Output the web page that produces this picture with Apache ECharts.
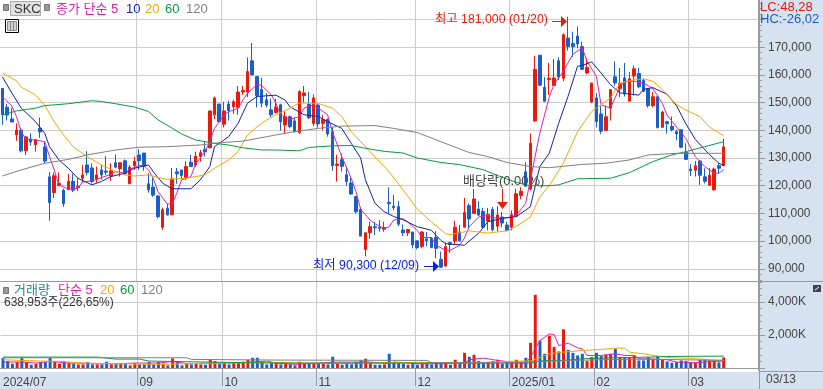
<!DOCTYPE html>
<html><head><meta charset="utf-8">
<style>html,body{margin:0;padding:0;background:#fff}#c{width:823px;height:389px}</style>
<script src="https://cdn.jsdelivr.net/npm/echarts@6/dist/echarts.min.js"></script>
</head><body><div id="c"></div>
<script>
const opens=[155100,148300,144100,138300,140100,132600,136900,134800,140700,134000,123200,117500,120000,118400,118600,121600,119300,122700,127500,126400,122400,125700,125300,123500,128300,126100,129000,120700,127200,131100,131800,120700,119500,116300,105000,111900,109500,125000,125700,123000,128500,127500,130500,133100,133700,145600,149500,142200,149500,148500,148300,153800,153800,165100,159400,154700,151000,147400,146400,149200,141900,144900,143400,139200,152500,149300,142500,149100,142500,143900,139500,127300,129400,124000,121000,116100,111500,97000,103000,105200,105000,104300,114000,112600,112400,104000,103000,103300,100100,98100,100800,101100,101300,93400,91000,99400,100000,103300,105000,112800,110000,111600,110700,107200,111400,105400,108700,105800,105000,109000,116500,125000,118800,143400,167100,155500,158300,156200,165100,158800,173300,171400,174000,170200,160700,150200,151700,145900,139900,148000,159300,155000,158900,150500,159600,160500,158000,155000,148900,152100,141100,143100,141400,139500,140200,132000,126000,125600,128900,123200,120200,118500,127200,127200];
const closes=[145600,145500,143000,140100,132600,137600,135800,136600,139400,128900,113900,123600,120900,113500,121600,118400,119800,123900,124800,121500,123900,123900,124900,125400,126700,128300,124300,126700,128800,129000,127100,118500,116600,108800,111300,109500,122400,124300,123700,126900,126900,130700,131900,132200,147000,151700,143100,147000,147100,150300,153800,154400,161200,160000,152500,149800,149100,145600,148400,143100,144900,141300,139500,154000,153500,144500,151700,142300,143900,138700,127300,127800,127000,121500,117000,110600,101800,103000,105200,104800,104600,104900,113500,112100,106100,103000,104200,98600,97700,103300,100100,97700,97400,90600,98000,98800,105000,100100,110300,108000,115200,109400,105000,109600,104100,109400,106500,103900,109500,117100,118000,119800,135300,162000,156300,150500,158800,158900,159200,174500,170200,170200,171200,162000,162700,157100,143200,139700,144900,154700,157100,156900,153100,158600,162200,155700,154100,148900,152100,141000,146600,142400,140200,138700,133900,129500,125400,127200,123800,121600,123800,126000,126300,134000];
const lows=[142000,143600,143000,136200,132000,131100,134500,132300,137300,128100,107400,115600,120000,112400,118400,117700,118100,121100,123700,120800,121100,122200,123900,121800,126300,123300,123900,120700,125700,125700,125400,117500,116000,108200,104000,109200,109500,120700,122400,122100,126900,126700,128700,130500,133500,144100,142900,141000,143500,145900,145600,152800,152000,160000,148300,148300,148300,144700,146100,139900,138900,140700,139500,138700,150000,144100,141500,141000,140000,137700,125400,121500,125100,120000,116700,110000,101800,94500,100800,102200,103400,103400,110000,111200,105400,101800,101800,97400,97000,97400,98100,97400,93800,90300,90800,95700,98500,99800,105000,104500,109700,109000,104700,103900,103500,103500,105000,103500,103900,109000,115100,119600,118300,143100,156000,150300,152800,156200,158200,157700,168800,166500,169600,161800,160200,149800,141000,138700,139900,143500,156100,152000,152200,150500,152600,155300,153800,148200,148300,140600,140800,138800,139600,136400,133500,129300,123500,123300,120300,120800,120000,118200,124500,127200];
const highs=[155100,149500,148000,142500,141000,138000,138900,136900,144600,135900,124900,124800,124800,118900,124200,124300,122700,127500,132500,128100,126900,127500,130700,128100,131300,128500,129500,127500,130500,133200,131800,124500,122900,116600,112100,113400,126400,126400,125700,128900,131100,132300,132900,135900,147000,152200,149500,150300,150700,151000,156000,156000,166300,171500,159400,159000,153500,151500,151400,149600,146800,145300,144600,154500,156000,153800,153000,149600,145600,144300,141100,131200,131500,127000,122800,116100,112200,103000,107000,107000,107600,107000,119400,116700,114400,106000,104200,103300,100100,103600,103300,101500,103600,96200,99500,99800,107300,105800,115600,113600,118800,114400,112000,112000,112300,112600,110500,107000,111100,118900,119500,128400,138900,166900,167100,159200,164400,165700,166400,175000,181000,175600,177500,172000,166000,157100,153400,148900,148900,154700,164900,162500,164300,161100,163400,162500,158600,155300,153800,152400,147000,143400,145000,140200,140200,135300,127800,128900,129300,126300,126300,126500,128100,137000];
const volume=[600,420,260,360,600,360,200,260,360,360,600,420,260,400,300,260,220,220,360,220,220,220,380,220,220,260,260,160,300,220,220,360,220,360,260,160,580,400,160,260,220,260,220,200,500,420,260,300,220,300,300,380,500,620,620,360,220,300,360,220,260,220,160,380,260,300,260,300,260,220,680,300,200,300,220,360,460,560,300,200,200,220,860,360,300,260,200,300,200,260,260,220,300,300,300,200,500,300,920,680,800,420,360,360,420,500,260,360,320,500,360,620,1520,4420,1660,860,1950,1280,1000,2340,1100,920,760,860,420,660,920,720,800,860,1160,660,660,660,760,460,460,660,560,700,500,400,320,360,460,420,360,320,500,500,460,460,340,639];
const ma5=[[0,152100],[2,148800],[3,144900],[4,139500],[5,136700],[7,136500],[9,135900],[10,130500],[11,125700],[12,120300],[14,118800],[16,119000],[17,121400],[19,121700],[21,122900],[23,124100],[24,125100],[26,124500],[27,125900],[29,127300],[30,127300],[31,125700],[32,122700],[33,117900],[35,113400],[36,113400],[37,117300],[38,122100],[40,123300],[41,127900],[43,132300],[44,135900],[45,140700],[47,145500],[48,146700],[50,147900],[51,150900],[52,153300],[54,156500],[55,156200],[57,152900],[58,149900],[59,145500],[61,144000],[63,144900],[64,148000],[66,149200],[67,148000],[69,145600],[70,139500],[72,130500],[74,122700],[75,117900],[76,111500],[78,107600],[79,106300],[81,104500],[82,105100],[83,107600],[85,108100],[86,106900],[88,103900],[89,101300],[91,101300],[92,98500],[94,96700],[95,96700],[97,98500],[98,101000],[99,105100],[101,108700],[103,109300],[105,108100],[108,108700],[109,109300],[111,113600],[112,122000],[114,138900],[116,152000],[117,156500],[119,161300],[121,167400],[123,169800],[124,165000],[126,159500],[127,149200],[129,148000],[131,155700],[132,157700],[134,157700],[136,157000],[138,155100],[140,149700],[141,145500],[143,141200],[145,137000],[147,130500],[149,126900],[151,124500],[152,124500],[153,125900]];
const ma10=[[0,159300],[2,153500],[4,148000],[7,143200],[9,138900],[10,134100],[12,129300],[14,126300],[16,122700],[19,120300],[21,121500],[23,123300],[26,124500],[28,126300],[31,127500],[32,125100],[34,120900],[36,118900],[40,118900],[42,122100],[44,126900],[45,134100],[48,137700],[50,142500],[52,149800],[54,152200],[58,152700],[60,150900],[61,148500],[64,145600],[67,145000],[69,143100],[72,140700],[74,135300],[76,130000],[77,122200],[79,113800],[81,110600],[83,108900],[85,107700],[88,105200],[91,103900],[93,100300],[94,99100],[98,98500],[101,102800],[103,107000],[106,108200],[109,108800],[112,112400],[114,126900],[116,131700],[118,142500],[120,152300],[122,163100],[123,163400],[125,164700],[127,160700],[129,156500],[131,153500],[135,152700],[136,154800],[138,155400],[141,153000],[143,148900],[145,142300],[147,136700],[150,131200],[152,128100],[153,127300]];
const ma20=[[0,160700],[3,157900],[4,155600],[7,152800],[9,149000],[11,143100],[13,138300],[15,134100],[18,130500],[21,127500],[24,125100],[26,123900],[28,123500],[31,123900],[33,123000],[35,122300],[39,122700],[43,123900],[45,126300],[48,129300],[50,132300],[52,138300],[54,141200],[56,143700],[58,145500],[61,148000],[63,149900],[67,149700],[70,148000],[72,145000],[74,139500],[76,135900],[79,130500],[82,125100],[85,118500],[88,111600],[91,106900],[94,102700],[95,102300],[99,103700],[103,102900],[107,103700],[109,105300],[112,108700],[114,115900],[116,120000],[119,128100],[122,139500],[125,146800],[129,151700],[131,157000],[134,158200],[136,158600],[138,157700],[140,154700],[143,149300],[145,147300],[148,144900],[150,141200],[153,138000]];
const ma60=[[0,145500],[3,147000],[7,148000],[9,148900],[14,149600],[19,150700],[21,150400],[24,149600],[28,148400],[31,146800],[33,143800],[36,140800],[38,138700],[41,136500],[45,135300],[48,134700],[51,133700],[55,132900],[58,132900],[63,132600],[65,133800],[70,134400],[74,134500],[77,133500],[81,132400],[85,131800],[88,130000],[93,128400],[97,127600],[102,125800],[105,123700],[109,121200],[112,120000],[116,120000],[118,120300],[122,122500],[129,122700],[133,124700],[138,128700],[142,131100],[145,132300],[149,134100],[153,135900]];
const ma120=[[0,123500],[4,125700],[9,128100],[14,129500],[18,131100],[24,132900],[29,133900],[35,134100],[42,134700],[46,135500],[51,136100],[58,138300],[62,139500],[67,140700],[72,141500],[79,141700],[83,140700],[88,139200],[93,135900],[99,132000],[103,130500],[107,128400],[112,126900],[116,126500],[123,127700],[128,128100],[133,129300],[137,131100],[143,131700],[153,131700]];
const volMa5=[[0,360],[4,360],[7,300],[10,400],[14,300],[16,300],[19,260],[24,260],[28,300],[33,300],[36,400],[39,260],[45,300],[50,300],[56,420],[58,300],[62,220],[71,360],[74,360],[78,360],[82,260],[83,360],[88,260],[93,260],[98,300],[99,500],[102,600],[105,460],[108,360],[111,300],[112,660],[114,1660],[116,2060],[117,2020],[118,1360],[119,1420],[120,1500],[122,1220],[123,1160],[124,760],[127,760],[130,860],[132,760],[134,760],[135,560],[141,500],[143,360],[147,320],[151,400],[153,420]];
const volMa20=[[0,500],[4,460],[8,420],[12,400],[17,300],[24,260],[33,220],[45,300],[58,340],[74,260],[83,340],[90,340],[96,300],[102,340],[109,420],[112,420],[116,860],[119,960],[123,1060],[127,1120],[130,1200],[132,1200],[133,960],[136,860],[138,760],[142,620],[146,580],[150,500],[153,460]];
const volMa60=[[0,660],[20,660],[24,540],[29,540],[31,420],[43,360],[58,300],[112,300],[114,420],[116,460],[119,460],[123,560],[130,620],[137,660],[142,700],[153,720]];
const volMa120=[[0,620],[39,620],[40,520],[58,480],[90,460],[91,320],[107,320],[116,420],[127,500],[137,540],[144,500],[153,460]];
const monthTicks={0:'2024/07',29:'09',47:'10',67:'11',88:'12',108:'2025/01',126:'02',146:'03'};
const priceLabels=[170000,160000,150000,140000,130000,120000,110000,100000,90000];
const priceGrid=[180000,170000,160000,150000,140000,130000,120000,110000,100000,90000];
const volumeLabels=[2000,4000];
const volumeGrid=[0,2000,4000];
const slotCount=161;

const RED='#e81a0c',BLUE='#1a5ec8',MAG='#e020b0',NAVY='#1424a0',ORG='#f2a800',GRN='#0c9a3c',GRY='#808080';
const FONT='"Liberation Sans","Noto Sans CJK KR",sans-serif';
const categories=Array.from({length:slotCount},(_,i)=>monthTicks[i]||String(i));
const isMonth=i=>monthTicks[i]!==undefined;
const minor=(a,b,s)=>{const r=[];for(let v=a;v<=b;v+=s)r.push(v);return r;};
const line=(name,data,color,x,y)=>({name,type:'line',data,xAxisIndex:x,yAxisIndex:y,showSymbol:false,symbol:'none',silent:true,lineStyle:{color,width:1},itemStyle:{color},z:5,animation:false});
const fmt=v=>Number(v).toLocaleString('en-US');
const xBase={type:'category',data:categories,boundaryGap:true};
const grayLine={lineStyle:{color:'#cdcdcd',width:1}};
const txt=(x,y,text,fill,size)=>({type:'text',x,y,silent:true,z:50,style:{text,fill,font:(size||12)+'px '+FONT,textVerticalAlign:'middle'}});
const rect=(x,y,width,height,fill,stroke,z)=>({type:'rect',shape:{x,y,width,height},silent:true,z:z===undefined?50:z,style:{fill,stroke:stroke||null,lineWidth:1}});
const seg=(x1,y1,x2,y2,stroke,z)=>({type:'line',shape:{x1,y1,x2,y2},silent:true,z:z===undefined?50:z,style:{stroke,lineWidth:1}});
const tri=(points,fill)=>({type:'polygon',shape:{points},silent:true,z:50,style:{fill}});

const chart=echarts.init(document.getElementById('c'),null,{renderer:'canvas'});
chart.setOption({
 animation:false,backgroundColor:'#fff',
 textStyle:{fontFamily:FONT},
 grid:[{left:0,top:0,width:759,height:281},{left:0,top:281,width:759,height:90}],
 xAxis:[
  {...xBase,gridIndex:0,axisLine:{show:true,lineStyle:{color:'#9a9a9a'}},axisTick:{show:false},axisLabel:{show:false},
   splitLine:{show:true,interval:(i)=>isMonth(i)&&i>0,...grayLine}},
  {...xBase,gridIndex:1,axisLine:{show:true,lineStyle:{color:'#9a9a9a'}},
   axisTick:{show:true,inside:false,length:18,interval:(i)=>isMonth(i)&&i>0,lineStyle:{color:'#9a9a9a'}},
   axisLabel:{show:true,interval:(i)=>isMonth(i),formatter:(v)=>v,align:'left',margin:7,color:'#444',fontSize:12,fontFamily:FONT,hideOverlap:false},
   splitLine:{show:true,interval:(i)=>isMonth(i)&&i>0,...grayLine}}
 ],
 yAxis:[
  {type:'value',gridIndex:0,position:'right',min:85600,max:187040,scale:true,
   axisLine:{show:true,lineStyle:{color:'#9a9a9a',width:2}},
   axisTick:{show:true,length:6,customValues:priceGrid,lineStyle:{color:'#9a9a9a'}},
   axisLabel:{show:true,customValues:priceLabels,formatter:fmt,color:'#444',fontSize:12,margin:9,fontFamily:FONT},
   splitLine:{show:true,...grayLine}},
  {type:'value',gridIndex:0,position:'right',min:85600,max:187040,scale:true,
   axisLine:{show:false},axisLabel:{show:false},splitLine:{show:false},
   axisTick:{show:true,length:3,customValues:minor(86000,186000,2000),lineStyle:{color:'#9a9a9a'}}},
  {type:'value',gridIndex:1,position:'right',min:-119,max:5254,scale:true,
   axisLine:{show:true,lineStyle:{color:'#9a9a9a',width:2}},
   axisTick:{show:true,length:6,customValues:volumeGrid,lineStyle:{color:'#9a9a9a'}},
   axisLabel:{show:true,customValues:volumeLabels,formatter:(v)=>fmt(v)+'K',color:'#444',fontSize:12,margin:9,fontFamily:FONT},
   splitLine:{show:true,...grayLine}},
  {type:'value',gridIndex:1,position:'right',min:-119,max:5254,scale:true,
   axisLine:{show:false},axisLabel:{show:false},splitLine:{show:false},
   axisTick:{show:true,length:3,customValues:minor(0,5200,400),lineStyle:{color:'#9a9a9a'}}}
 ],
 series:[
  {name:'price',type:'candlestick',xAxisIndex:0,yAxisIndex:0,barWidth:3,silent:true,z:3,
   data:opens.map((o,i)=>[o,closes[i],lows[i],highs[i]]),
   itemStyle:{color:RED,color0:BLUE,borderColor:RED,borderColor0:BLUE,borderWidth:1}},
  line('종가 5',ma5,MAG,0,0),line('종가 10',ma10,NAVY,0,0),line('종가 20',ma20,ORG,0,0),line('종가 60',ma60,GRN,0,0),line('종가 120',ma120,GRY,0,0),
  {name:'거래량',type:'bar',xAxisIndex:1,yAxisIndex:2,barWidth:3,silent:true,z:3,
   data:volume.map((v,i)=>({value:v,itemStyle:{color:closes[i]>=opens[i]?RED:BLUE}}))},
  line('거래량 5',volMa5,MAG,1,2),line('거래량 20',volMa20,ORG,1,2),line('거래량 60',volMa60,GRN,1,2),line('거래량 120',volMa120,GRY,1,2)
 ],
 graphic:[
  rect(760,0,63,389,'#d6e2f0',null,-1),rect(0,372,823,17,'#d6e2f0',null,-1),
  seg(759.5,372,759.5,389,'#9a9a9a'),seg(759,281.5,823,281.5,'#9a9a9a'),seg(759,371.5,823,371.5,'#9a9a9a'),
  rect(3.5,4.5,5,6,'#999','#777'),rect(10.5,1.5,30,14,'#e2e2e2','#aaa'),txt(14,9,'SKC','#333',13),rect(44.5,4.5,5,6,'#999','#777'),
  txt(56,9,'종가 단순 5',MAG,13),txt(126,9,'10',NAVY,13),txt(145,9,'20',ORG,13),txt(165,9,'60',GRN,13),txt(186,9,'120',GRY,13),
  rect(5.5,19.5,13,13,'#fff','#000'),rect(7.5,21.5,9,9,'#d0d0d0','#888'),seg(10.5,22,10.5,30,'#888'),seg(13.5,22,13.5,30,'#888'),
  txt(760,7,'LC:48,28',RED,13),txt(760,19,'HC:-26,02',BLUE,13),
  rect(813,285,8,7,'#444',null),seg(815,290,819,287,'#fff'),
  txt(766,380,'03/13','#444',12),
  rect(3.5,287.5,5,6,'#999','#777'),txt(14,290,'거래량','#2a8a8a',13),txt(58,290,'단순 5',MAG,13),txt(100,290,'20',ORG,13),txt(120,290,'60',GRN,13),txt(141,290,'120',GRY,13),
  txt(4,303,'638,953주(226,65%)','#333',12),
  txt(435,20,'최고 181,000 (01/20)',RED,12.3),seg(552,21.5,562,21.5,RED),tri([[561,16],[567,21.5],[561,27]],RED),
  txt(313,266,'최저 90,300 (12/09)','#0a20e0',12.3),seg(424,266.5,434,266.5,'#0a20e0'),tri([[433,261],[439,266.5],[433,272]],'#0a20e0'),
  txt(463,181,'배당락(0.00%)','#444',13),seg(502.5,189,502.5,203,RED),tri([[497,202],[508,202],[502.5,209]],RED)
 ]
});
</script></body></html>
